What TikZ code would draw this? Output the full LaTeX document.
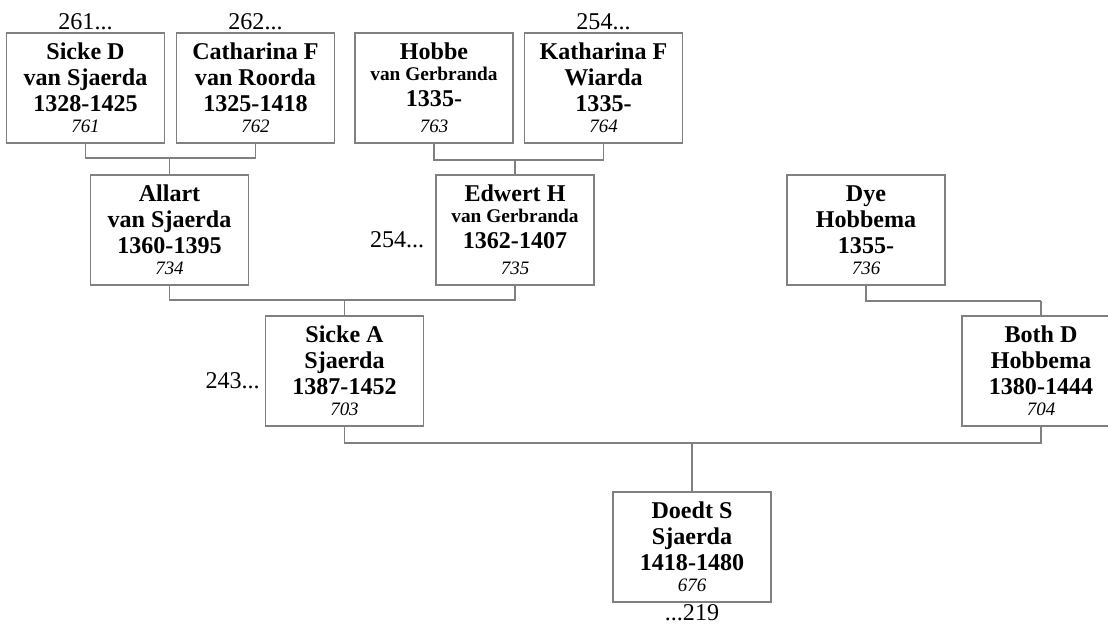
\documentclass[tikz,border=0pt]{standalone}
\usepackage{fontspec}
\setmainfont{Liberation Serif}
\usepackage{tikz}
\usetikzlibrary{positioning}

\begin{document}
\begin{tikzpicture}[x=0.02cm, y=-0.02cm,
    person/.style={draw=gray, line width=0.85pt, fill=white,
      minimum width=3.16cm, minimum height=2.2cm, align=center, inner sep=0pt,
      font=\fontsize{13.7}{14.8}\selectfont\bfseries},
    link/.style={draw=gray, line width=0.85pt},
    more/.style={font=\fontsize{13.7}{14.8}\selectfont, inner sep=1pt}]
    \useasboundingbox (0,0) rectangle (1108,628);
    % generation 1
    \node[person] (sickeD) at (85.5,88) {Sicke D\\van Sjaerda\\1328-1425\\[-3pt]{\fontsize{10.8}{12}\selectfont\mdseries\itshape 761}};
    \node[person] (catharina) at (255.5,88) {Catharina F\\van Roorda\\1325-1418\\[-3pt]{\fontsize{10.8}{12}\selectfont\mdseries\itshape 762}};
    \node[person] (hobbe) at (434,88) {Hobbe\\[-3pt]{\fontsize{11}{12}\selectfont van Gerbranda}\\1335-\\{\fontsize{10.8}{12}\selectfont\mdseries\itshape 763}};
    \node[person] (katharina) at (603.5,88) {Katharina F\\Wiarda\\1335-\\[-3pt]{\fontsize{10.8}{12}\selectfont\mdseries\itshape 764}};
    % generation 2
    \node[person] (allart) at (169.5,230) {Allart\\van Sjaerda\\1360-1395\\[-3pt]{\fontsize{10.8}{12}\selectfont\mdseries\itshape 734}};
    \node[person] (edwert) at (515,230) {Edwert H\\[-3pt]{\fontsize{11}{12}\selectfont van Gerbranda}\\1362-1407\\{\fontsize{10.8}{12}\selectfont\mdseries\itshape 735}};
    \node[person] (dye) at (866,230) {Dye\\Hobbema\\1355-\\[-3pt]{\fontsize{10.8}{12}\selectfont\mdseries\itshape 736}};
    % generation 3
    \node[person] (sickeA) at (344.5,371) {Sicke A\\Sjaerda\\1387-1452\\[-3pt]{\fontsize{10.8}{12}\selectfont\mdseries\itshape 703}};
    \node[person] (bothD) at (1041,371) {Both D\\Hobbema\\1380-1444\\[-3pt]{\fontsize{10.8}{12}\selectfont\mdseries\itshape 704}};
    % generation 4
    \node[person] (doedt) at (692,547) {Doedt S\\Sjaerda\\1418-1480\\[-3pt]{\fontsize{10.8}{12}\selectfont\mdseries\itshape 676}};

    % continuation marks
    \node[more, above=0pt of sickeD] (m261) {261...};
    \node[more, above=0pt of catharina] (m262) {262...};
    \node[more, above=0pt of katharina] (m254a) {254...};
    \node[more, anchor=east] (m254b) at ([xshift=-0.18cm, yshift=-0.2cm]edwert.west) {254...};
    \node[more, anchor=east] (m243) at ([xshift=-0.06cm, yshift=-0.2cm]sickeA.west) {243...};
    \node[more, below=0pt of doedt] (m219) {...219};

    % joins
    \coordinate (j1) at (169.5,158);
    \coordinate (j2) at (515,160);
    \coordinate (j3) at (344.5,300);
    \coordinate (j4) at (1041,301);
    \coordinate (j5) at (692,443);

    \draw[link] (sickeD.south) |- (j1) -| (catharina.south);
    \draw[link] (j1) -- (allart.north);
    \draw[link] (hobbe.south) |- (j2) -| (katharina.south);
    \draw[link] (j2) -- (edwert.north);
    \draw[link] (allart.south) |- (j3) -| (edwert.south);
    \draw[link] (j3) -- (sickeA.north);
    \draw[link] (dye.south) |- (j4);
    \draw[link] (j4) -- (bothD.north);
    \draw[link] (sickeA.south) |- (j5) -| (bothD.south);
    \draw[link] (j5) -- (doedt.north);
\end{tikzpicture}
\end{document}
